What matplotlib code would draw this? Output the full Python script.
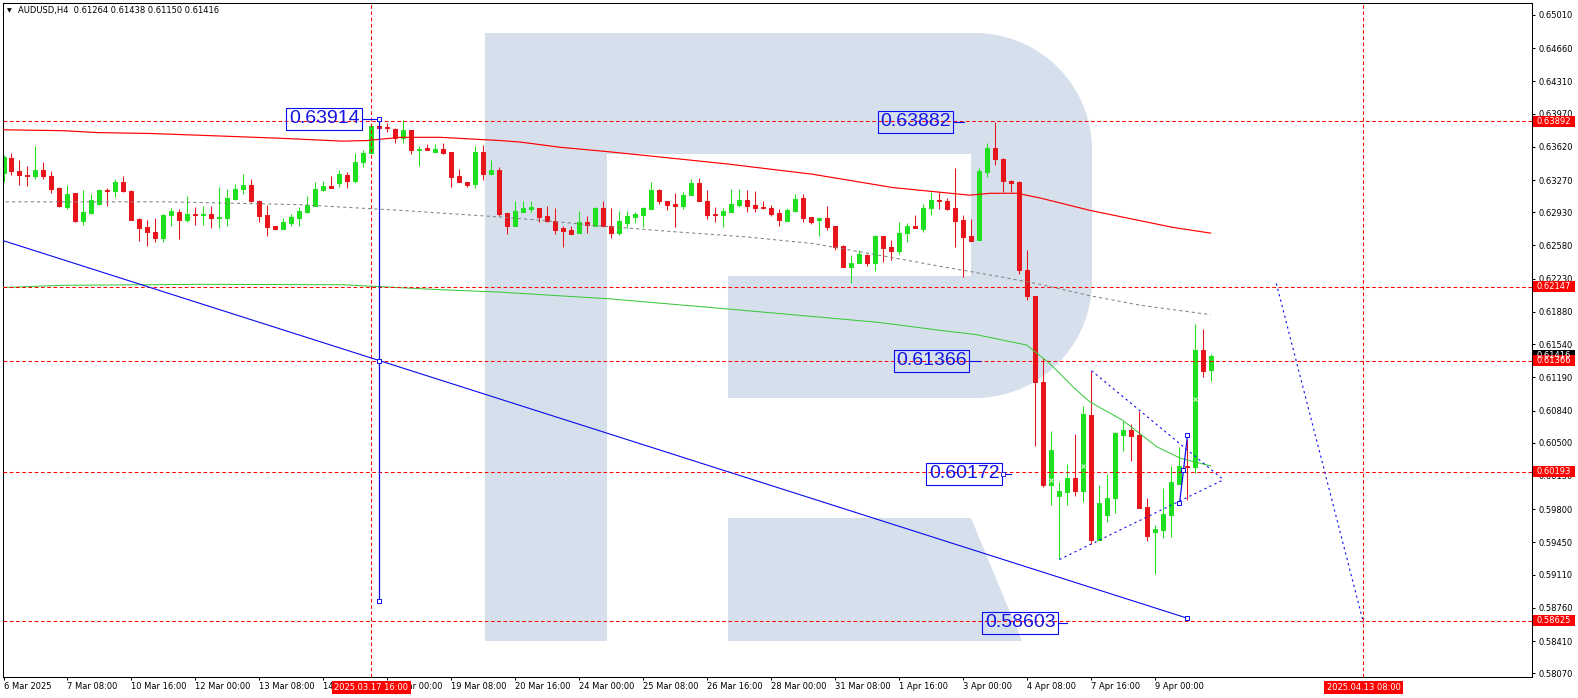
import numpy as np
import matplotlib
matplotlib.use("Agg")
import matplotlib.pyplot as plt
import matplotlib.transforms as mtransforms
from matplotlib.patches import Rectangle, Polygon

# ---------------- data ----------------
header_text = "AUDUSD,H4  0.61264 0.61438 0.61150 0.61416"

opens = [0.6334, 0.6350, 0.6337, 0.6332, 0.6331, 0.6338, 0.6331, 0.6319, 0.6299, 0.6313,
         0.6284, 0.6292, 0.6302, 0.6316, 0.6315, 0.6325, 0.6315, 0.6286, 0.6277, 0.6272,
         0.6266, 0.6290, 0.6293, 0.6285, 0.6291, 0.6290, 0.6291, 0.6287, 0.6287, 0.6307,
         0.6317, 0.6322, 0.6305, 0.6290, 0.6278, 0.6275, 0.6282, 0.6287, 0.6293, 0.6300,
         0.6316, 0.6321, 0.6324, 0.6332, 0.6326, 0.6346, 0.6355, 0.6384, 0.6383, 0.6381,
         0.6371, 0.6380, 0.6359, 0.6361, 0.6357, 0.6360, 0.6357, 0.6331, 0.6325, 0.6323,
         0.6357, 0.6333, 0.6338, 0.6292, 0.6279, 0.6293, 0.6296, 0.6298, 0.6289, 0.6284,
         0.6276, 0.6274, 0.6271, 0.6283, 0.6279, 0.6297, 0.6279, 0.6271, 0.6282, 0.6288,
         0.6290, 0.6296, 0.6316, 0.6305, 0.6302, 0.6300, 0.6311, 0.6324, 0.6305, 0.6291,
         0.6290, 0.6293, 0.6301, 0.6306, 0.6301, 0.6299, 0.6298, 0.6292, 0.6284, 0.6294,
         0.6308, 0.6288, 0.6285, 0.6287, 0.6278, 0.6257, 0.6235, 0.6240, 0.6248, 0.6240,
         0.6268, 0.6256, 0.6252, 0.6271, 0.6278, 0.6275, 0.6298, 0.6306, 0.6305, 0.6297,
         0.6285, 0.6268, 0.6264, 0.6335, 0.6361, 0.6349, 0.6326, 0.6325, 0.6232, 0.6205,
         0.6114, 0.6005, 0.5994, 0.5998, 0.6013, 0.5999, 0.6079, 0.5947, 0.5974, 0.5992,
         0.6058, 0.6063, 0.6058, 0.5982, 0.5956, 0.5958, 0.5974, 0.6007, 0.6026, 0.6024,
         0.6148, 0.61264]
highs = [0.6353, 0.6356, 0.6348, 0.6342, 0.6363, 0.6346, 0.6337, 0.6320, 0.6322, 0.6313,
         0.6316, 0.6312, 0.6318, 0.6319, 0.6328, 0.6331, 0.6316, 0.6287, 0.6285, 0.6287,
         0.6291, 0.6298, 0.6296, 0.6310, 0.6299, 0.6300, 0.6300, 0.6320, 0.6318, 0.6323,
         0.6333, 0.6328, 0.6306, 0.6301, 0.6278, 0.6287, 0.6291, 0.6299, 0.6310, 0.6325,
         0.6326, 0.6331, 0.6338, 0.6335, 0.6355, 0.6359, 0.6387, 0.6391, 0.6387, 0.6382,
         0.6390, 0.6380, 0.6363, 0.6365, 0.6365, 0.6366, 0.6357, 0.6339, 0.6325, 0.6363,
         0.6364, 0.6348, 0.6341, 0.6292, 0.6305, 0.6305, 0.6305, 0.6298, 0.6300, 0.6297,
         0.6278, 0.6278, 0.6294, 0.6289, 0.6299, 0.6305, 0.6297, 0.6294, 0.6294, 0.6293,
         0.6299, 0.6325, 0.6318, 0.6305, 0.6313, 0.6314, 0.6328, 0.6329, 0.6316, 0.6299,
         0.6298, 0.6318, 0.6317, 0.6316, 0.6315, 0.6305, 0.6301, 0.6296, 0.6298, 0.6312,
         0.6312, 0.6288, 0.6287, 0.6300, 0.6278, 0.6259, 0.6248, 0.6253, 0.6249, 0.6269,
         0.6268, 0.6264, 0.6283, 0.6282, 0.6290, 0.6302, 0.6314, 0.6314, 0.6308, 0.6340,
         0.6290, 0.6286, 0.6340, 0.6366, 0.6388, 0.6350, 0.6327, 0.6326, 0.6253, 0.6205,
         0.6139, 0.6062, 0.6009, 0.6028, 0.6059, 0.6089, 0.6126, 0.6005, 0.6017, 0.6061,
         0.6073, 0.6070, 0.6084, 0.5992, 0.5963, 0.6002, 0.6026, 0.6046, 0.6053, 0.6175,
         0.6170, 0.61438]
lows = [0.6325, 0.6332, 0.6322, 0.6321, 0.6328, 0.6328, 0.6313, 0.6299, 0.6296, 0.6283,
        0.6280, 0.6291, 0.6301, 0.6300, 0.6309, 0.6314, 0.6285, 0.6263, 0.6257, 0.6262,
        0.6262, 0.6278, 0.6265, 0.6283, 0.6280, 0.6280, 0.6276, 0.6276, 0.6279, 0.6306,
        0.6312, 0.6304, 0.6283, 0.6268, 0.6274, 0.6275, 0.6278, 0.6278, 0.6292, 0.6300,
        0.6315, 0.6319, 0.6320, 0.6319, 0.6324, 0.6341, 0.6355, 0.6379, 0.6378, 0.6366,
        0.6366, 0.6354, 0.6342, 0.6359, 0.6357, 0.6354, 0.6320, 0.6325, 0.6320, 0.6319,
        0.6327, 0.6333, 0.6289, 0.6270, 0.6279, 0.6293, 0.6293, 0.6283, 0.6283, 0.6270,
        0.6256, 0.6270, 0.6271, 0.6271, 0.6278, 0.6278, 0.6266, 0.6269, 0.6276, 0.6282,
        0.6277, 0.6296, 0.6302, 0.6295, 0.6277, 0.6296, 0.6311, 0.6305, 0.6286, 0.6283,
        0.6277, 0.6293, 0.6299, 0.6293, 0.6293, 0.6296, 0.6289, 0.6279, 0.6284, 0.6293,
        0.6283, 0.6281, 0.6268, 0.6274, 0.6253, 0.6235, 0.6218, 0.6239, 0.6236, 0.6231,
        0.6241, 0.6243, 0.6249, 0.6262, 0.6276, 0.6272, 0.6290, 0.6296, 0.6295, 0.6256,
        0.6225, 0.6263, 0.6264, 0.6330, 0.6343, 0.6314, 0.6314, 0.6228, 0.6200, 0.6047,
        0.6003, 0.5984, 0.5927, 0.5984, 0.5994, 0.5988, 0.5943, 0.5947, 0.5966, 0.5976,
        0.6041, 0.6031, 0.5981, 0.5946, 0.5912, 0.5950, 0.5951, 0.6007, 0.5990, 0.6018,
        0.6119, 0.61150]
closes = [0.6351, 0.6336, 0.6332, 0.6331, 0.6338, 0.6331, 0.6318, 0.6300, 0.6312, 0.6284,
          0.6293, 0.6306, 0.6316, 0.6315, 0.6325, 0.6315, 0.6285, 0.6276, 0.6272, 0.6266,
          0.6290, 0.6294, 0.6285, 0.6291, 0.6290, 0.6291, 0.6287, 0.6288, 0.6308, 0.6318,
          0.6322, 0.6305, 0.6289, 0.6277, 0.6275, 0.6283, 0.6288, 0.6294, 0.6301, 0.6318,
          0.6321, 0.6319, 0.6333, 0.6326, 0.6346, 0.6356, 0.6384, 0.6382, 0.6382, 0.6371,
          0.6380, 0.6359, 0.6360, 0.6359, 0.6360, 0.6356, 0.6330, 0.6325, 0.6322, 0.6357,
          0.6333, 0.6338, 0.6291, 0.6279, 0.6294, 0.6297, 0.6299, 0.6288, 0.6284, 0.6274,
          0.6273, 0.6270, 0.6283, 0.6280, 0.6297, 0.6279, 0.6271, 0.6284, 0.6289, 0.6291,
          0.6298, 0.6316, 0.6305, 0.6301, 0.6300, 0.6311, 0.6324, 0.6305, 0.6290, 0.6290,
          0.6294, 0.6302, 0.6306, 0.6300, 0.6298, 0.6298, 0.6291, 0.6285, 0.6295, 0.6307,
          0.6287, 0.6283, 0.6287, 0.6277, 0.6256, 0.6235, 0.6240, 0.6249, 0.6240, 0.6268,
          0.6255, 0.6252, 0.6271, 0.6278, 0.6276, 0.6298, 0.6306, 0.6305, 0.6296, 0.6284,
          0.6267, 0.6263, 0.6336, 0.6361, 0.6349, 0.6326, 0.6324, 0.6232, 0.6205, 0.6114,
          0.6005, 0.6042, 0.5999, 0.6013, 0.5999, 0.6080, 0.5947, 0.5986, 0.5992, 0.6060,
          0.6063, 0.6057, 0.5981, 0.5952, 0.5959, 0.5975, 0.6009, 0.6026, 0.6024, 0.6148,
          0.6126, 0.61416]

time_tick_bars = [0, 8, 16, 24, 32, 40, 48, 56, 64, 72, 80, 88, 96, 104, 112, 120, 128, 136, 144]
time_tick_labels = ["6 Mar 2025", "7 Mar 08:00", "10 Mar 16:00", "12 Mar 00:00", "13 Mar 08:00",
                    "14 Mar 16:00", "18 Mar 00:00", "19 Mar 08:00", "20 Mar 16:00", "24 Mar 00:00",
                    "25 Mar 08:00", "26 Mar 16:00", "28 Mar 00:00", "31 Mar 08:00", "1 Apr 16:00",
                    "3 Apr 00:00", "4 Apr 08:00", "7 Apr 16:00", "9 Apr 00:00"]

price_ticks = [0.65010, 0.64660, 0.64310, 0.63970, 0.63620, 0.63270, 0.62930, 0.62580, 0.62230,
               0.61880, 0.61540, 0.61190, 0.60840, 0.60500, 0.60150, 0.59800, 0.59450, 0.59110,
               0.58760, 0.58410, 0.58070]

level_prices = [0.63892, 0.62147, 0.61366, 0.60193, 0.58625]
current_price = 0.61416
vline_bars = [46, 170]
vline_labels = ["2025.03.17 16:00", "2025.04.13 08:00"]

red_ma_bars = [-0.5, 7.4, 11.7, 18.6, 26.7, 34.6, 42.4, 45.4, 49.6, 54.6, 62.1, 64.6, 69.6,
               75.4, 81.2, 90.4, 101.2, 111.2, 120.8, 123.3, 126.7, 129.6, 135.8, 146.2, 150.9]
red_ma_vals = [0.6380, 0.6379, 0.6377, 0.6376, 0.63735, 0.6371, 0.6368, 0.63686, 0.6372, 0.6372,
               0.63686, 0.6367, 0.63615, 0.6357, 0.6352, 0.6344, 0.6333, 0.6319, 0.6311, 0.6313,
               0.6313, 0.6308, 0.6295, 0.6277, 0.6271]

gray_ma_bars = [-0.5, 20.4, 37.1, 41.2, 49.6, 62.1, 67.9, 75.4, 84.6, 92.9, 101.2, 109.6,
                117.1, 124.6, 129.6, 135.8, 142.1, 150.9]
gray_ma_vals = [0.6304, 0.6304, 0.6301, 0.6299, 0.6295, 0.6288, 0.6284, 0.6278, 0.6272, 0.6267,
                0.6260, 0.62475, 0.6236, 0.6225, 0.6217, 0.6205, 0.6195, 0.6185]

green_ma_bars = [-0.5, 7.4, 24.6, 42.4, 49.6, 54.6, 62.1, 72.1, 75.4, 90.6, 109.3, 117.1, 121.6,
                 127.9, 130.8, 133.7, 135.8, 139.9, 144.2, 147.2, 150.9]
green_ma_vals = [0.62135, 0.6216, 0.6217, 0.62166, 0.62135, 0.62114, 0.62088, 0.62036, 0.6202,
                 0.6191, 0.6177, 0.61685, 0.6164, 0.6153, 0.61334, 0.61088, 0.6093, 0.60737,
                 0.60456, 0.60334, 0.60256]

trend_bars = [47, 148]
trend_vals = [0.61366, 0.5865]
measure_bar = 47
measure_top = 0.63914
measure_bottom = 0.5883

tri_upper_bars = [136.0, 152.5]
tri_upper_vals = [0.6126, 0.6011]
tri_lower_bars = [132.0, 152.5]
tri_lower_vals = [0.5927, 0.6011]
proj_bars = [159.1, 170.0]
proj_vals = [0.6218, 0.5860]
wave_bars = [147.0, 147.5, 148.0]
wave_vals = [0.5986, 0.6021, 0.6058]

mark_bars = [131, 135, 149]
mark_vals = [0.6011, 0.6026, 0.6096]

label_texts = ["0.63914", "0.63882", "0.61366", "0.60172", "0.58603"]
label_vals = [0.63914, 0.63882, 0.61366, 0.60172, 0.58603]

# ---------------- layout / style ----------------
W, H = 1578, 698
AX_L, AX_R, AX_T, AX_B = 2.7, 1532.0, 3.0, 676.7
axw, axh = AX_R - AX_L, AX_B - AX_T
X0_PX, BAR_PX = 3.5, 8.0
YMAX, YMIN = 0.65136, 0.58034
px_per_price = axh / (YMAX - YMIN)

BULL = "#1EE01E"
BEAR = "#E8141C"
WM = "#D6E0EC"
BLUE = "#0A0AF0"
LABEL_BLUE = "#1414E6"

# label layout (text right edge bar, connector start/end bars)
label_right = [44.5, 118.4, 120.4, 124.5, 131.5]
conn_start = [44.8, 118.7, 120.7, 124.8, 131.8]
conn_end = [46.7, 120.1, 122.1, 126.0, 133.0]

fig = plt.figure(figsize=(W / 100, H / 100), dpi=100)
fig.patch.set_facecolor("white")
ax = fig.add_axes([AX_L / W, 1 - AX_B / H, axw / W, axh / H])
ax.set_facecolor("white")
ax.set_xlim((AX_L - X0_PX) / BAR_PX, (AX_R - X0_PX) / BAR_PX)
ax.set_ylim(YMIN, YMAX)

# ---------------- watermark (R logo) ----------------
T = mtransforms.Affine2D().scale(1 / W, -1 / H).translate(0, 1) + fig.transFigure


def arc(cx, cy, r, t0, t1, n=40):
    t = np.radians(np.linspace(t0, t1, n))
    return list(zip(cx + r * np.cos(t), cy + r * np.sin(t)))


bowl = [(607, 33)] + arc(975, 150, 117, -90, 0) + arc(975, 281, 117, 0, 90) + \
       [(728, 398), (728, 276), (971, 276), (971, 154), (607, 154)]
ax.add_patch(Rectangle((485, 33), 122, 608, transform=T, fc=WM, ec="none", zorder=0.5))
ax.add_patch(Polygon(bowl, closed=True, transform=T, fc=WM, ec="none", zorder=0.5))
ax.add_patch(Polygon([(728, 518), (971, 518), (1022, 641), (728, 641)], closed=True,
                     transform=T, fc=WM, ec="none", zorder=0.5))

# ---------------- candles ----------------
O = np.array(opens); Hi = np.array(highs); Lo = np.array(lows); C = np.array(closes)
idx = np.arange(len(O))
cols = np.where(C >= O, BULL, BEAR)
ax.vlines(idx, Lo, Hi, colors=cols, lw=0.75, zorder=2)
ax.bar(idx, np.abs(C - O), bottom=np.minimum(O, C), width=0.5, color=cols,
       edgecolor=cols, linewidth=0.75, zorder=2.1)
ax.plot(mark_bars, mark_vals, ls="none", marker="x", ms=2.5, mew=0.7, color="#E8FFE8", zorder=2.2)

# ---------------- indicators ----------------
ax.plot(red_ma_bars, red_ma_vals, color="#FF0000", lw=0.85, zorder=3)
ax.plot(gray_ma_bars, gray_ma_vals, color="#808080", lw=0.75, ls=(0, (3, 3)), zorder=3)
ax.plot(green_ma_bars, green_ma_vals, color="#3CC83C", lw=0.75, zorder=3)

# horizontal / vertical red dashed levels
for p in level_prices:
    ax.axhline(p, color="#FF0000", lw=0.75, ls=(0, (3.5, 2.5)), zorder=3.2)
for b in vline_bars:
    ax.axvline(b, color="#FF0000", lw=0.75, ls=(0, (3.5, 2.5)), zorder=3.2)

# blue trend line (extended to the left edge)
slope = (trend_vals[1] - trend_vals[0]) / (trend_bars[1] - trend_bars[0])
xl = ax.get_xlim()[0]
ax.plot([xl, trend_bars[1]], [trend_vals[0] + slope * (xl - trend_bars[0]), trend_vals[1]],
        color=BLUE, lw=0.8, zorder=3.5)
ax.plot(trend_bars, trend_vals, ls="none", marker="s", ms=3.2, mfc="white", mec=BLUE, mew=0.7, zorder=3.6)

# vertical measure line
ax.plot([measure_bar, measure_bar], [measure_top, measure_bottom], color=BLUE, lw=0.9, zorder=3.5)
ax.plot([measure_bar, measure_bar], [measure_top, measure_bottom], ls="none", marker="s", ms=3.2,
        mfc="white", mec=BLUE, mew=0.7, zorder=3.6)

# dotted triangle and projection
dot = (0, (2, 3))
ax.plot(tri_upper_bars, tri_upper_vals, color=BLUE, lw=0.8, ls=dot, zorder=3.5)
ax.plot(tri_lower_bars, tri_lower_vals, color=BLUE, lw=0.8, ls=dot, zorder=3.5)
ax.plot(proj_bars, proj_vals, color=BLUE, lw=0.8, ls=dot, zorder=3.5)

# small wave polyline
ax.plot(wave_bars, wave_vals, color=BLUE, lw=0.9, zorder=3.5)
ax.plot(wave_bars, wave_vals, ls="none", marker="s", ms=3.2, mfc="white", mec=BLUE, mew=0.7, zorder=3.6)

# value labels
pad_px = 2.5
for txt, val, xr, c0, c1 in zip(label_texts, label_vals, label_right, conn_start, conn_end):
    ax.plot([c0, c1], [val, val], color=BLUE, lw=0.8, zorder=3.7)
    ax.text(xr, val, txt, ha="right", va="center", fontsize=14, color=LABEL_BLUE,
            family=["Liberation Sans", "DejaVu Sans"], zorder=4,
            bbox=dict(boxstyle="square,pad=0.13", fc="none", ec=BLUE, lw=0.8))
ax.plot([124.9], [0.60172], ls="none", marker="s", ms=2.2, mfc="white", mec=BLUE, mew=0.6, zorder=4)

# ---------------- axes, ticks ----------------
for s in ax.spines.values():
    s.set_linewidth(0.75)
    s.set_color("black")

ax.set_xticks(time_tick_bars)
ax.set_xticklabels(time_tick_labels)
for lab in ax.get_xticklabels():
    lab.set_ha("left")
ax.tick_params(axis="x", direction="out", length=2.2, width=0.75, pad=1.6, labelsize=6, colors="black")

ax.yaxis.tick_right()
ax.set_yticks(price_ticks)
ax.set_yticklabels([f"{v:.5f}" for v in price_ticks])
ax.tick_params(axis="y", direction="out", length=2.2, width=0.75, pad=2.2, labelsize=6, colors="black")

# right-axis price tags
bt = mtransforms.blended_transform_factory(ax.transAxes, ax.transData)
half = 5.5 / px_per_price


def price_tag(val, fc):
    ax.add_patch(Rectangle((1 + 1.0 / axw, val - half), 42.0 / axw, 2 * half, transform=bt,
                           fc=fc, ec="none", zorder=5, clip_on=False))
    ax.text(1 + 22.0 / axw, val, f"{val:.5f}", transform=bt, ha="center", va="center",
            fontsize=6, color="white", zorder=6, clip_on=False)


price_tag(current_price, "black")
for p in level_prices:
    price_tag(p, "#FF0000")

# bottom time tags
bx = mtransforms.blended_transform_factory(ax.transData, ax.transAxes)
for b, txt in zip(vline_bars, vline_labels):
    w_bars = 79.0 / BAR_PX
    ax.add_patch(Rectangle((b - w_bars / 2, -(694 - AX_B) / axh), w_bars, 13.0 / axh, transform=bx,
                           fc="#FF0000", ec="none", zorder=5, clip_on=False))
    ax.text(b, -(687.5 - AX_B) / axh, txt, transform=bx, ha="center", va="center",
            fontsize=6, color="white", zorder=6, clip_on=False)

# header
ax.text((6.5 - AX_L) / axw, 1 - (11 - AX_T) / axh, "\u25BC", transform=ax.transAxes,
        ha="left", va="center", fontsize=4.5, color="black", zorder=6)
ax.text((18 - AX_L) / axw, 1 - (11 - AX_T) / axh, header_text, transform=ax.transAxes,
        ha="left", va="center", fontsize=6, color="black", zorder=6)

fig.savefig("out.png", dpi=100)
